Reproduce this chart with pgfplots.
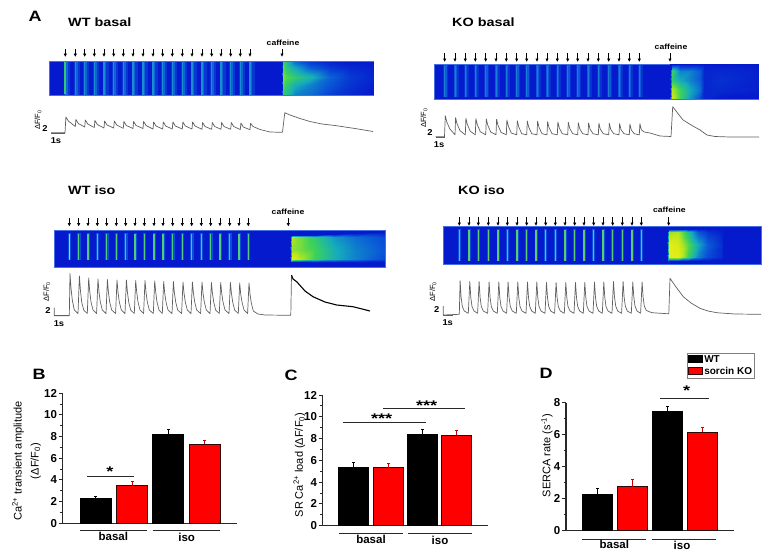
\documentclass[border=0pt]{standalone}
\usepackage{fontspec}
\setmainfont{Liberation Sans}
\usepackage{pgfplots}
\usepackage{pgfplotstable}
\pgfplotsset{compat=1.18}
\usetikzlibrary{arrows.meta}

\definecolor{heatblue}{RGB}{5,25,205}
\definecolor{heatedge}{RGB}{70,110,230}
\definecolor{barred}{RGB}{255,0,0}
\definecolor{baredge}{RGB}{45,10,10}
\definecolor{axisgray}{RGB}{40,40,40}
\definecolor{tracegray}{RGB}{95,95,95}

% stimulus / line-scan positions, picture pixels
\pgfplotstableread[row sep=\\]{x n\\65.3 1\\75.3 2\\84.7 3\\94.3 4\\104 5\\113.7 6\\123.3 7\\133 8\\143 9\\153 10\\162.7 11\\172.3 12\\182.3 13\\192 14\\202 15\\211.7 16\\221 17\\230.7 18\\240.3 19\\250 20\\}\wtbasalx
\pgfplotstableread[row sep=\\]{x n\\444.7 1\\455 2\\465.3 3\\475.3 4\\485.7 5\\496 6\\506.3 7\\516.7 8\\526.7 9\\537 10\\547 11\\557.3 12\\567.7 13\\577.7 14\\588 15\\598.3 16\\608.7 17\\619 18\\629.3 19\\639.3 20\\}\kobasalx
\pgfplotstableread[row sep=\\]{x n\\69.3 1\\78.7 2\\88 3\\97.3 4\\106.7 5\\116.3 6\\125.7 7\\135 8\\144.3 9\\154 10\\163 11\\172.7 12\\182.3 13\\191.7 14\\201.3 15\\210.7 16\\220 17\\229.7 18\\239 19\\248.3 20\\}\wtisox
\pgfplotstableread[row sep=\\]{x n\\459.3 1\\469 2\\478.3 3\\488.3 4\\498 5\\507.3 6\\517 7\\526.7 8\\536 9\\545.7 10\\555.3 11\\565 12\\574.7 13\\584 14\\593.7 15\\603 16\\612.7 17\\622.3 18\\632 19\\641.3 20\\}\koisox

\pgfplotsset{
  barpanel/.style={
    scale only axis,
    axis x line=bottom, axis y line=left,
    axis line style={-,axisgray,line width=1.1pt},
    xtick=\empty, ymin=0,
    tick align=outside,
    major tick length=4pt, minor tick length=2.5pt,
    minor y tick num=1,
    y tick style={axisgray,line width=1pt},
    /pgf/number format/assume math mode=true,
    yticklabel style={font=\bfseries\fontsize{11.5}{13}\selectfont,inner sep=1.5pt},
  },
  blackbar/.style={ybar,bar shift=0pt,fill=black,draw=black,line width=.8pt,
    error bars/y dir=plus,error bars/y explicit,
    error bars/error bar style={black,line width=1pt},
    error bars/error mark options={black,line width=1pt,mark size=1.5pt,rotate=90}},
  redbar/.style={ybar,bar shift=0pt,fill=barred,draw=baredge,line width=.8pt,
    error bars/y dir=plus,error bars/y explicit,
    error bars/error bar style={barred!80!black,line width=1pt},
    error bars/error mark options={barred!80!black,line width=1pt,mark size=1.5pt,rotate=90}},
  heatpanel/.style={fill=heatblue,draw=heatedge,line width=.5pt},
  caff/.style={surf,shader=interp,mesh/ordering=y varies,mesh/rows=5,point meta=explicit},
  trace/.style={tracegray,line width=.7pt,line join=round},
  tick arrow/.style={-{Latex[length=3.5pt,width=3.5pt]},black,line width=.9pt},
  group line/.style={axisgray,line width=1pt},
}

\begin{document}
\begin{tikzpicture}[
  hd/.style={font=\bfseries\fontsize{12}{14}\selectfont,xscale=1.2,anchor=west,inner sep=0pt},
  pan/.style={font=\bfseries\fontsize{15}{17}\selectfont,xscale=1.2,inner sep=0pt},
  caf/.style={font=\bfseries\fontsize{7.5}{9}\selectfont,xscale=1.15,inner sep=0pt},
  scl/.style={font=\bfseries\fontsize{8.5}{10}\selectfont,xscale=1.1,inner sep=0pt},
  dff/.style={font=\fontsize{7.5}{9}\selectfont,rotate=90,inner sep=0pt},
  grp/.style={font=\bfseries\fontsize{11.5}{13}\selectfont,inner sep=0pt},
  star/.style={font=\bfseries\fontsize{14}{16}\selectfont,xscale=1.3,anchor=north,inner sep=0pt},
]
\path[use as bounding box] (0,0) rectangle (776pt,558pt);

% panel B
\begin{axis}[barpanel,at={(62.7pt,34.7pt)},anchor=south west,
  width=174.6pt,height=130pt,xmin=0.091,xmax=4.9,ymax=12,ytick={0,2,...,12},
  ylabel={Ca\textsuperscript{2+} transient amplitude\\(ΔF/F\textsubscript{0})},
  every axis y label/.style={at={(axis description cs:-0.207,0.479)},rotate=90,anchor=center,align=center,
    font=\fontsize{11}{17}\selectfont}]
\addplot[blackbar,bar width=31pt] coordinates {(1,2.3) +- (0,0.16) (3,8.2) +- (0,0.48)};
\addplot[redbar,bar width=31pt] coordinates {(2,3.5) +- (0,0.35) (4,7.3) +- (0,0.33)};
\end{axis}

% panel C
\begin{axis}[barpanel,at={(322.7pt,32.3pt)},anchor=south west,
  width=165.6pt,height=130.7pt,xmin=0.0988,xmax=4.913,ymax=12,ytick={0,2,...,12},
  ylabel={SR Ca\textsuperscript{2+} load (ΔF/F\textsubscript{0})},
  every axis y label/.style={at={(axis description cs:-0.141,0.464)},rotate=90,anchor=center,
    font=\fontsize{11}{13}\selectfont}]
\addplot[blackbar,bar width=30pt] coordinates {(1,5.33) +- (0,0.46) (3,8.36) +- (0,0.49)};
\addplot[redbar,bar width=30pt] coordinates {(2,5.33) +- (0,0.39) (4,8.3) +- (0,0.42)};
\end{axis}

% panel D
\begin{axis}[barpanel,at={(566pt,27.3pt)},anchor=south west,
  width=168.3pt,height=128pt,xmin=0.1,xmax=4.909,ymax=8,ytick={0,2,...,8},
  ylabel={SERCA rate (s\textsuperscript{-1})},
  every axis y label/.style={at={(axis description cs:-0.113,0.5875)},rotate=90,anchor=center,
    font=\fontsize{11}{13}\selectfont},
  legend cell align=left,
  legend style={at={(0.717,1.39)},anchor=north west,draw=gray,line width=.6pt,
    font=\bfseries\fontsize{10}{10}\selectfont,inner sep=1.5pt,row sep=1.5pt,nodes={inner sep=1pt}},
  legend image code/.code={\fill[#1] (0pt,-3pt) rectangle (14pt,4pt);}]
\addplot[blackbar,bar width=29.5pt] coordinates {(1,2.27) +- (0,0.38) (3,7.46) +- (0,0.29)};
\addlegendentry{WT}
\addplot[redbar,bar width=29.5pt] coordinates {(2,2.75) +- (0,0.45) (4,6.15) +- (0,0.29)};
\addlegendentry{sorcin KO}
\end{axis}

% panel A and annotations, in picture pixels (y downwards)
\begin{axis}[at={(0pt,0pt)},anchor=south west,scale only axis,width=776pt,height=558pt,
  xmin=0,xmax=776,ymin=0,ymax=558,y dir=reverse,hide axis,clip=false,
  colormap={heat}{rgb255=(5,25,205) rgb255=(10,90,215) rgb255=(20,170,190) rgb255=(60,210,90) rgb255=(180,230,30) rgb255=(245,240,20)},
  point meta min=0,point meta max=1]

% ---- WT basal image
\addplot[heatpanel] coordinates {(49.3,61.3)(373.3,61.3)(373.3,95)(49.3,95)} --cycle;
\addplot[draw={rgb,255:red,8;green,55;blue,212},line width=6pt,quiver={u=0,v=33}] table[x expr=\thisrow{x}+1.5,y expr=61.6] {\wtbasalx};
\addplot[draw={rgb,255:red,15;green,100;blue,215},line width=3pt,quiver={u=0,v=33}] table[x expr=\thisrow{x}+0.7,y expr=61.6] {\wtbasalx};
\addplot[draw={rgb,255:red,25;green,140;blue,210},line width=1.2pt,quiver={u=0,v=33}] table[x=x,y expr=61.6] {\wtbasalx};
\addplot[draw={rgb,255:red,50;green,200;blue,120},line width=2pt] coordinates {(65.3,62)(65.3,94)};
\addplot[caff,mesh/cols=8] table[meta=c,row sep=\\] {
x y c\\
281.5 61.6 0\\ 281.5 68 0\\ 281.5 77 0\\ 281.5 85 0\\ 281.5 94.7 0\\
283 61.6 .6\\ 283 68 .65\\ 283 77 .72\\ 283 85 .65\\ 283 94.7 .55\\
286 61.6 .5\\ 286 68 .55\\ 286 77 .64\\ 286 85 .55\\ 286 94.7 .5\\
295 61.6 .25\\ 295 68 .4\\ 295 77 .56\\ 295 85 .42\\ 295 94.7 .3\\
310 61.6 .1\\ 310 68 .22\\ 310 77 .45\\ 310 85 .3\\ 310 94.7 .25\\
330 61.6 .03\\ 330 68 .1\\ 330 77 .22\\ 330 85 .18\\ 330 94.7 .12\\
350 61.6 0\\ 350 68 .05\\ 350 77 .1\\ 350 85 .08\\ 350 94.7 .05\\
373 61.6 0\\ 373 68 .02\\ 373 77 .04\\ 373 85 .02\\ 373 94.7 0\\
};
\addplot[tick arrow,quiver={u=0,v=8}] table[x=x,y expr=49] {\wtbasalx};
\addplot[tick arrow,quiver={u=0,v=8}] coordinates {(282,49)};

% ---- KO basal image
\addplot[heatpanel] coordinates {(434.7,64)(758.7,64)(758.7,99)(434.7,99)} --cycle;
\addplot[draw={rgb,255:red,8;green,50;blue,212},line width=5pt,quiver={u=0,v=32}] table[x expr=\thisrow{x}+1,y expr=65] {\kobasalx};
\addplot[draw={rgb,255:red,15;green,90;blue,215},line width=2.6pt,quiver={u=0,v=32}] table[x expr=\thisrow{x}+0.5,y expr=65] {\kobasalx};
\addplot[draw={rgb,255:red,25;green,125;blue,212},line width=1pt,quiver={u=0,v=31}] table[x=x,y expr=66] {\kobasalx};
\addplot[caff,mesh/cols=8] table[meta=c,row sep=\\] {
x y c\\
669.5 64.3 0\\ 669.5 71 0\\ 669.5 80 0\\ 669.5 90 0\\ 669.5 98.7 0\\
671.5 64.3 0\\ 671.5 71 .6\\ 671.5 80 .55\\ 671.5 90 .8\\ 671.5 98.7 .85\\
680 64.3 0\\ 680 71 .3\\ 680 80 .4\\ 680 90 .6\\ 680 98.7 .6\\
690 64.3 0\\ 690 71 .3\\ 690 80 .3\\ 690 90 .4\\ 690 98.7 .35\\
700 64.3 0\\ 700 71 .2\\ 700 80 .2\\ 700 90 .25\\ 700 98.7 .15\\
704 64.3 0\\ 704 71 .04\\ 704 80 .04\\ 704 90 .04\\ 704 98.7 .04\\
720 64.3 0\\ 720 71 .05\\ 720 80 .07\\ 720 90 .05\\ 720 98.7 0\\
758.5 64.3 0\\ 758.5 71 .02\\ 758.5 80 .02\\ 758.5 90 .02\\ 758.5 98.7 0\\
};
\addplot[tick arrow,quiver={u=0,v=9}] table[x=x,y expr=53] {\kobasalx};
\addplot[tick arrow,quiver={u=0,v=9}] coordinates {(670,53)};

% ---- WT iso image
\addplot[heatpanel] coordinates {(54.3,230)(385,230)(385,267)(54.3,267)} --cycle;
\addplot[draw={rgb,255:red,10;green,80;blue,215},line width=3.4pt,quiver={u=0,v=27}] table[x expr=\thisrow{x}+0.3,y expr=233] {\wtisox};
\addplot[draw={rgb,255:red,80;green,205;blue,120},line width=1.3pt,quiver={u=0,v=26}] table[x=x,y expr=233.5] {\wtisox};
\addplot[draw={rgb,255:red,190;green,230;blue,40},line width=1.6pt] coordinates {(69.3,234)(69.3,259)};
\addplot[caff,mesh/cols=7] table[meta=c,row sep=\\] {
x y c\\
290 235 0\\ 290 237 0\\ 290 250 0\\ 290 259 0\\ 290 262 0\\
291.5 235 0\\ 291.5 237 .8\\ 291.5 250 .75\\ 291.5 259 .95\\ 291.5 262 0\\
300 235 0\\ 300 237 .7\\ 300 250 .7\\ 300 259 .8\\ 300 262 0\\
315 235 0\\ 315 237 .55\\ 315 250 .6\\ 315 259 .6\\ 315 262 .02\\
335 234 0\\ 335 237 .35\\ 335 250 .42\\ 335 259 .42\\ 335 262 .02\\
355 233 0\\ 355 237 .25\\ 355 250 .3\\ 355 259 .3\\ 355 262 .02\\
384.7 232 0\\ 384.7 237 .15\\ 384.7 250 .18\\ 384.7 259 .15\\ 384.7 262 0\\
};
\addplot[tick arrow,quiver={u=0,v=8.5}] table[x=x,y expr=218] {\wtisox};
\addplot[tick arrow,quiver={u=0,v=8.5}] coordinates {(288.3,218)};

% ---- KO iso image
\addplot[heatpanel] coordinates {(443.3,226.7)(761.3,226.7)(761.3,264.7)(443.3,264.7)} --cycle;
\addplot[draw={rgb,255:red,10;green,80;blue,215},line width=3pt,quiver={u=0,v=31.5}] table[x=x,y expr=229] {\koisox};
\addplot[draw={rgb,255:red,90;green,205;blue,110},line width=1.2pt,quiver={u=0,v=31}] table[x=x,y expr=229.5] {\koisox};
\addplot[caff,mesh/cols=7] table[meta=c,row sep=\\] {
x y c\\
667 229 0\\ 667 232 0\\ 667 245 0\\ 667 257 0\\ 667 260.5 0\\
668.5 229 0\\ 668.5 232 .75\\ 668.5 245 .95\\ 668.5 257 .95\\ 668.5 260.5 0\\
678 229 0\\ 678 232 .8\\ 678 245 .9\\ 678 257 .95\\ 678 260.5 0\\
688 229 0\\ 688 232 .5\\ 688 245 .65\\ 688 257 .6\\ 688 260.5 0\\
698 229 0\\ 698 232 .2\\ 698 245 .4\\ 698 257 .3\\ 698 260.5 0\\
708 229 0\\ 708 232 .08\\ 708 245 .2\\ 708 257 .15\\ 708 260.5 0\\
722 229 0\\ 722 232 .02\\ 722 245 .06\\ 722 257 .05\\ 722 260.5 0\\
};
\addplot[tick arrow,quiver={u=0,v=9}] table[x=x,y expr=217] {\koisox};
\addplot[tick arrow,quiver={u=0,v=9}] coordinates {(668.7,217)};

% ---- traces
\addplot[trace] coordinates {(51,132.7)(65,132.7)(65.9,117)(68.3,121)(75.3,126.5)(75.9,119.5)(78.3,123.5)(84.7,127)(85.3,120)(87.7,124)(94.3,127.5)(94.9,120.5)(97.3,124.5)(104,128)(104.6,121)(107,125)(113.7,128)(114.3,121)(116.7,125)(123.3,128.3)(123.9,121.5)(126.3,125.5)(133,128.5)(133.6,121.5)(136,125.5)(143,128.5)(143.6,121.5)(146,125.5)(153,129)(153.6,122)(156,126)(162.7,129)(163.3,122)(165.7,126)(172.3,129)(172.9,122)(175.3,126)(182.3,129)(182.9,122)(185.3,126)(192,129)(192.6,122)(195,126)(202,129.3)(202.6,122.5)(205,126.5)(211.7,129.3)(212.3,122.5)(214.7,126.5)(221,129.3)(221.6,122.5)(224,126.5)(230.7,129.3)(231.3,122.5)(233.7,126.5)(240.3,129.5)(240.9,123)(243.3,127)(250,129.7)(250.6,123.3)(253,126.5)(260,129.5)(270,132)(281.5,132.3)(282.5,132)(284.8,112.7)(290,115)(300,118.5)(310,121.5)(322,124)(335,125.5)(355,128.5)(373,131.5)};
\addplot[trace] coordinates {(435.5,136.7)(444.5,136.7)(445.3,115.7)(446.7,121.7)(449.7,128.7)(455,134.8)(455.6,117.7)(457,123.7)(460,130.7)(465.3,134.8)(465.9,118.3)(467.3,124.3)(470.3,131.3)(475.3,134.8)(475.9,118.7)(477.3,124.7)(480.3,131.7)(485.7,134.8)(486.3,119)(487.7,125)(490.7,132)(496,134.8)(496.6,119.3)(498,125.3)(501,132.3)(506.3,134.8)(506.9,120)(508.3,126)(511.3,133)(516.7,134.8)(517.3,120.7)(518.7,126.7)(521.7,133.7)(526.7,134.8)(527.3,121)(528.7,127)(531.7,133.7)(537,134.8)(537.6,121.3)(539,127.3)(542,133.7)(547,134.8)(547.6,121.7)(549,127.7)(552,133.7)(557.3,134.8)(557.9,122)(559.3,128)(562.3,133.7)(567.7,134.8)(568.3,122.3)(569.7,128.3)(572.7,133.7)(577.7,134.8)(578.3,122.7)(579.7,128.7)(582.7,133.7)(588,134.8)(588.6,123)(590,129)(593,133.7)(598.3,134.8)(598.9,123.3)(600.3,129.3)(603.3,133.7)(608.7,134.8)(609.3,123.3)(610.7,129.3)(613.7,133.7)(619,134.8)(619.6,123.7)(621,129.7)(624,133.7)(629.3,134.8)(629.9,124)(631.3,130)(634.3,133.7)(639.3,134.8)(639.9,123.7)(641.3,129.7)(644.3,132)(650,133)(660,136)(671,136.5)(672.7,106.7)(676,111)(683,120)(692,125.5)(700,130)(707,135)(715,136.5)(730,137)(759,137)};
\addplot[trace] coordinates {(54.3,307.7)(54.3,315.7)(69.3,315.7)(70,273.5)(71,288)(72.3,300)(74.3,310)(78,313.5)(79.4,276)(80.4,290)(81.7,302)(83.7,310)(87.3,313.5)(88.7,278)(89.7,291)(91,302)(93,310)(96.6,313.5)(98,279)(99,292)(100.3,302)(102.3,310)(106,313.5)(107.4,279.5)(108.4,292)(109.7,302)(111.7,310)(115.6,313.5)(117,280)(118,292)(119.3,302)(121.3,310)(125,313.5)(126.4,280)(127.4,292)(128.7,302)(130.7,310)(134.3,313.5)(135.7,280.5)(136.7,292)(138,302)(140,310)(143.6,313.5)(145,280.5)(146,292)(147.3,302)(149.3,310)(153.3,313.5)(154.7,281)(155.7,292)(157,302)(159,310)(162.3,313.5)(163.7,281.5)(164.7,293)(166,302)(168,310)(172,313.5)(173.4,281.5)(174.4,293)(175.7,302)(177.7,310)(181.6,313.5)(183,282)(184,293)(185.3,302)(187.3,310)(191,313.5)(192.4,282)(193.4,293)(194.7,302)(196.7,310)(200.6,313.5)(202,282)(203,293)(204.3,302)(206.3,310)(210,313.5)(211.4,282.5)(212.4,293)(213.7,302)(215.7,310)(219.3,313.5)(220.7,282.5)(221.7,293)(223,302)(225,310)(229,313.5)(230.4,282.5)(231.4,293)(232.7,302)(234.7,310)(238.3,313.5)(239.7,283)(240.7,294)(242,302)(244,310)(247.6,313.5)(249,283)(250,294)(251.3,303)(253.3,311)(258,314)(265,315)(290.8,315.3)(291.5,275)};
\addplot[black,line width=1.1pt] coordinates {(291.5,275)(293,279)(296.7,281.7)(305,291)(313,296.7)(325,302)(336.7,305)(353,306.7)(370,311)};
\addplot[trace] coordinates {(443.3,306)(443.3,315)(459.3,314.3)(460.1,280.7)(461.1,297)(462.3,306.5)(464.3,311)(468.3,313.3)(469.8,281.5)(470.8,297.5)(472,306.5)(474,311)(477.6,313.3)(479.1,281.5)(480.1,297.5)(481.3,306.5)(483.3,311)(487.6,313.3)(489.1,282)(490.1,297.5)(491.3,306.5)(493.3,311)(497.3,313.3)(498.8,282)(499.8,297.5)(501,306.5)(503,311)(506.6,313.3)(508.1,282)(509.1,297.5)(510.3,306.5)(512.3,311)(516.3,313.3)(517.8,282)(518.8,297.5)(520,306.5)(522,311)(526,313.3)(527.5,282)(528.5,297.5)(529.7,306.5)(531.7,311)(535.3,313.3)(536.8,282)(537.8,297.5)(539,306.5)(541,311)(545,313.3)(546.5,282.5)(547.5,297.5)(548.7,306.5)(550.7,311)(554.6,313.3)(556.1,282.5)(557.1,297.5)(558.3,306.5)(560.3,311)(564.3,313.3)(565.8,282.5)(566.8,297.5)(568,306.5)(570,311)(574,313.3)(575.5,282.5)(576.5,297.5)(577.7,306.5)(579.7,311)(583.3,313.3)(584.8,282.5)(585.8,297.5)(587,306.5)(589,311)(593,313.3)(594.5,282)(595.5,297.5)(596.7,306.5)(598.7,311)(602.3,313.3)(603.8,282)(604.8,297.5)(606,306.5)(608,311)(612,313.3)(613.5,281.5)(614.5,297)(615.7,306)(617.7,311)(621.6,313.3)(623.1,281.5)(624.1,297)(625.3,306)(627.3,311)(631.3,313.3)(632.8,282)(633.8,297)(635,306)(637,311)(640.6,313.3)(642.1,282)(643.1,297)(644.3,306)(646.3,310.5)(652,312.7)(668.8,313.8)(670,278.3)(676,287)(683.3,296.7)(691,303)(700,308.3)(708,311)(716.7,312.7)(735,314)(761,314.3)};
% scale bars
\addplot[tracegray,line width=.7pt] coordinates {(51,133.5)(65,133.5)};
\addplot[tracegray,line width=.7pt] coordinates {(435.5,137)(444.7,137)};
\addplot[tracegray,line width=.7pt] coordinates {(54.3,315.7)(69,315.7)};
\addplot[tracegray,line width=.7pt] coordinates {(443.3,315.7)(453.3,315.7)};

% ---- group lines and significance bars
\addplot[group line] coordinates {(80,530.3)(147.3,530.3)};
\addplot[group line] coordinates {(152.7,530.3)(220,530.3)};
\addplot[group line] coordinates {(338.7,533.3)(403.3,533.3)};
\addplot[group line] coordinates {(408,533.3)(472.3,533.3)};
\addplot[group line] coordinates {(582,539)(646,539)};
\addplot[group line] coordinates {(652,539)(716,539)};
\addplot[group line] coordinates {(87.3,476.3)(134,476.3)};
\addplot[group line] coordinates {(343.3,422)(425.7,422)};
\addplot[group line] coordinates {(383.3,408.7)(465.3,408.7)};
\addplot[group line] coordinates {(660,398.3)(709.3,398.3)};

% ---- text
\node[pan] at (axis cs:35,16) {A};
\node[pan] at (axis cs:39,374) {B};
\node[pan] at (axis cs:291,375) {C};
\node[pan] at (axis cs:546,373.3) {D};
\node[hd] at (axis cs:68,22) {WT basal};
\node[hd] at (axis cs:452,22) {KO basal};
\node[hd] at (axis cs:68,190) {WT iso};
\node[hd] at (axis cs:458,190) {KO iso};
\node[caf] at (axis cs:283,43) {caffeine};
\node[caf] at (axis cs:671,47) {caffeine};
\node[caf] at (axis cs:288,212) {caffeine};
\node[caf] at (axis cs:669.3,210) {caffeine};
\node[dff] at (axis cs:38,120) {ΔF/F\textsubscript{0}};
\node[dff] at (axis cs:424,118) {ΔF/F\textsubscript{0}};
\node[dff] at (axis cs:46.7,291.7) {ΔF/F\textsubscript{0}};
\node[dff] at (axis cs:433,291.7) {ΔF/F\textsubscript{0}};
\node[scl] at (axis cs:45,129) {2};
\node[scl] at (axis cs:430,133) {2};
\node[scl] at (axis cs:48,311) {2};
\node[scl] at (axis cs:436.7,310) {2};
\node[scl] at (axis cs:56,141) {1s};
\node[scl] at (axis cs:439,145) {1s};
\node[scl] at (axis cs:59,324) {1s};
\node[scl] at (axis cs:447.7,323) {1s};
\node[grp] at (axis cs:113.3,536) {basal};
\node[grp] at (axis cs:186.7,537) {iso};
\node[grp] at (axis cs:371,539) {basal};
\node[grp] at (axis cs:440,540) {iso};
\node[grp] at (axis cs:614.3,544) {basal};
\node[grp] at (axis cs:682,545.3) {iso};
\node[star] at (axis cs:110,467) {*};
\node[star] at (axis cs:381.7,414) {***};
\node[star] at (axis cs:426.7,400.5) {***};
\node[star] at (axis cs:686.7,385.5) {*};
\end{axis}
\end{tikzpicture}
\end{document}
